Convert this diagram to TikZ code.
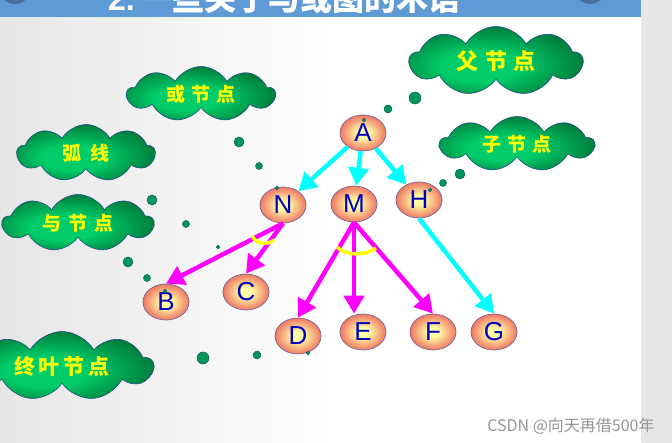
\documentclass[tikz,border=0pt]{standalone}
\usepackage{fontspec}
\setmainfont{Liberation Sans}
\newfontfamily\cjk{Noto Sans CJK SC}
\usetikzlibrary{positioning, shapes.geometric, shapes.symbols, arrows.meta, calc}

\definecolor{bannerblue}{RGB}{94,154,214}
\definecolor{knobblue}{RGB}{72,112,162}
\definecolor{stripgray}{RGB}{230,230,230}
\definecolor{nodein}{RGB}{255,255,165}
\definecolor{nodeout}{RGB}{240,120,100}
\definecolor{nodeedge}{RGB}{120,100,150}
\definecolor{nodetext}{RGB}{0,0,190}
\definecolor{cloudlight}{RGB}{0,205,105}
\definecolor{clouddark}{RGB}{0,105,50}
\definecolor{cloudedge}{RGB}{30,80,130}
\definecolor{dotfill}{RGB}{0,150,90}
\definecolor{dotedge}{RGB}{20,90,100}
\definecolor{orcyan}{RGB}{0,255,255}
\definecolor{andmagenta}{RGB}{255,0,255}
\definecolor{markyellow}{RGB}{255,255,0}
\definecolor{wmgray}{RGB}{150,150,150}

\pgfdeclareradialshading{nodeball}{\pgfpoint{0bp}{0bp}}{color(0bp)=(nodein); color(6bp)=(nodein); color(25bp)=(nodeout); color(50bp)=(nodeout)}
\pgfdeclareradialshading{cloudball}{\pgfpoint{-6bp}{-6bp}}{color(0bp)=(cloudlight); color(11bp)=(cloudlight); color(32bp)=(clouddark); color(50bp)=(clouddark)}

\tikzset{
  treenode/.style={ellipse, draw=nodeedge, line width=0.7pt, shade, shading=nodeball,
    minimum width=46pt, minimum height=36pt, inner sep=0pt, text=nodetext,
    font=\fontsize{26}{26}\selectfont},
  tag/.style={cloud, cloud puffs=9, cloud puff arc=120, aspect=2.6, cloud ignores aspect,
    draw=cloudedge, line width=0.6pt, shade, shading=cloudball, inner sep=0pt,
    text=markyellow, font=\cjk\bfseries\fontsize{19}{19}\selectfont},
  oredge/.style={draw=orcyan, line width=4.5pt, -{Triangle[length=18pt,width=20pt]}},
  andedge/.style={draw=andmagenta, line width=4.5pt, -{Triangle[length=18pt,width=20pt]}},
  andmark/.style={draw=markyellow, line width=3.5pt},
  bubble/.style={fill=dotfill, draw=dotedge, line width=0.5pt}
}

\begin{document}
\begin{tikzpicture}[x=1pt, y=-1pt]
  \useasboundingbox (0,0) rectangle (672,443);
  \clip (0,0) rectangle (672,443);

  % Background and banner
  \fill[white] (0,0) rectangle (672,443);
  \shade[left color=black!10, right color=white] (0,17) rectangle (330,443);
  \fill[stripgray] (641,0) rectangle (672,443);
  \fill[bannerblue] (0,0) rectangle (641,17);
  \fill[knobblue] (15,-12) circle (16pt);
  \fill[knobblue] (590,-12) circle (16pt);
  \node[anchor=base west, inner sep=0pt, text=white, font=\bfseries\fontsize{32}{32}\selectfont] (num) at (108,11) {2.};
  \node[anchor=base west, inner sep=0pt, text=white, font=\cjk\bfseries\fontsize{32}{32}\selectfont] (title) at (140,11) {一些关于与或图的术语};

  % Nodes
  \node[treenode] (A) at (363,133) {A};
  \node[treenode] (N) at (283,205) {N};
  \node[treenode] (M) at (354,204) {M};
  \node[treenode] (H) at (419,200) {H};
  \node[treenode] (B) at (166,302) {B};
  \node[treenode] (C) at (246,292) {C};
  \node[treenode] (D) at (298,336) {D};
  \node[treenode] (E) at (363,332) {E};
  \node[treenode] (F) at (433,332) {F};
  \node[treenode] (G) at (494,332) {G};

  % Arrows
  \foreach \t in {N,M,H}
  \draw[oredge] (A) -- (\t);
  \draw[oredge] (H.south) -- (G.north);
  \foreach \t in {B,C}
  \draw[andedge] (N.south) -- (\t.north);
  \draw[andedge] (M.south) -- (D.north);
  \draw[andedge] (M.south) -- (E.north -| M.south);
  \draw[andedge] (M.south) -- (F.north);

  % And marks
  \draw[andmark] (252,236) .. controls (257,245) and (268,245) .. (274,240);
  \draw[andmark] (337,247) .. controls (346,256) and (365,256) .. (376,248);

  % Clouds
  \node[tag, minimum width=173pt, minimum height=69pt, font=\cjk\bfseries\fontsize{22}{22}\selectfont] (parent) at (496,61) {父\hspace{7pt}节\hspace{7pt}点};
  \node[tag, minimum width=154pt, minimum height=55pt] (child) at (517,144) {子\hspace{6pt}节\hspace{6pt}点};
  \node[tag, minimum width=148pt, minimum height=55pt] (ornode) at (201,94) {或\hspace{6pt}节\hspace{6pt}点};
  \node[tag, minimum width=138pt, minimum height=57pt] (arc) at (86,153) {弧\hspace{10pt}线};
  \node[tag, minimum width=151pt, minimum height=57pt] (andnode) at (78,223) {与\hspace{7pt}节\hspace{7pt}点};
  \node[tag, minimum width=182pt, minimum height=69pt, font=\cjk\bfseries\fontsize{21}{21}\selectfont] (leaf) at (62,366) {终\hspace{4pt}叶\hspace{4pt}节\hspace{4pt}点};

  % Bubbles
  \foreach \x/\y/\r in {415/98/6, 388/109/4, 364/120/1.8,
                        460/174/5, 443/183/3.5, 430/190/1.8,
                        239/142/5, 259/166/3.5, 277/188/1.8,
                        152/200/5, 186/224/3.5, 218/247/1.8,
                        128/262/5, 147/278/3.5, 165/291/1.8,
                        203/358/6, 257/355/4, 308/353/1.8}
  \filldraw[bubble] (\x,\y) circle (\r pt);

  \node[text=wmgray, font=\cjk\fontsize{16}{16}\selectfont] (mark) at (571,426) {CSDN @向天再借500年};
\end{tikzpicture}
\end{document}
